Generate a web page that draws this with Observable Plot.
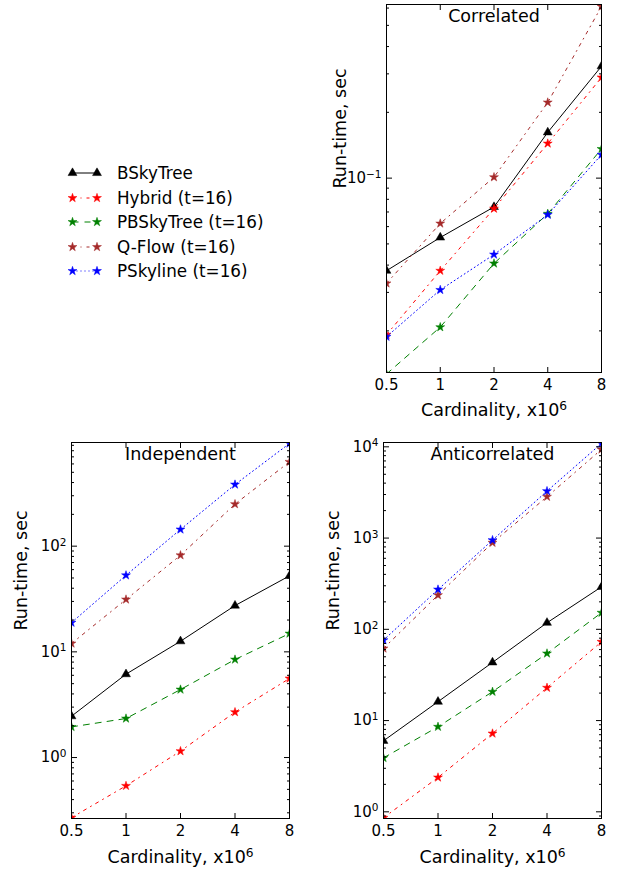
<!DOCTYPE html>
<html><head><meta charset="utf-8">
<script src="https://cdn.jsdelivr.net/npm/d3@7"></script>
<script src="https://cdn.jsdelivr.net/npm/@observablehq/plot@0.6"></script>
<style>
body{margin:0;background:#fff;font-family:"DejaVu Sans",sans-serif;}
#chart{position:relative;width:618px;height:871px;overflow:hidden;background:#fff;}
#chart > svg{position:absolute;}
</style></head><body><div id="chart"></div>
<script>
// ---- data ----
const cardinality = [0.5, 1, 2, 4, 8];
const xTickLabels = ["0.5", "1", "2", "4", "8"];
const seriesNames = ["BSkyTree", "Hybrid (t=16)", "PBSkyTree (t=16)", "Q-Flow (t=16)", "PSkyline (t=16)"];
const seriesColors = ["black", "red", "green", "brown", "blue"];
const seriesDash = [null, "3,5,1,5", "6,6", "3,5,1,5", "1,3"];
const seriesSymbols = ["triangle", "star", "star", "star", "star"];

// Correlated
const corBSkyTree  = [0.0377, 0.0535, 0.0738, 0.162, 0.325];
const corHybrid    = [0.0192, 0.0377, 0.0725, 0.144, 0.289];
const corPBSkyTree = [0.0127, 0.0208, 0.0407, 0.0687, 0.136];
const corQFlow     = [0.033, 0.062, 0.101, 0.222, 0.61];
const corPSkyline  = [0.0188, 0.0308, 0.0447, 0.068, 0.128];
// Independent
const indBSkyTree  = [2.46, 6.15, 12.6, 27.4, 52.4];
const indHybrid    = [0.27, 0.54, 1.15, 2.69, 5.6];
const indPBSkyTree = [1.95, 2.34, 4.4, 8.46, 14.9];
const indQFlow     = [12.0, 31.3, 82, 250, 628];
const indPSkyline  = [18.9, 53, 144, 383, 937];
// Anticorrelated
const antBSkyTree  = [6.0, 16.1, 43.4, 118, 292];
const antHybrid    = [0.86, 2.38, 7.22, 22.9, 73];
const antPBSkyTree = [3.9, 8.55, 20.7, 54.4, 152];
const antQFlow     = [61.7, 237, 888, 2837, 9370];
const antPSkyline  = [76, 273, 950, 3273, 10900];

const corMajorTicks = [0.1];
const indMajorTicks = [1, 10, 100];
const antMajorTicks = [1, 10, 100, 1000, 10000];

const yLabel = "Run-time, sec";
const xLabel = "Cardinality, x10\u2076";

// ---- helpers ----
const supMap = {"-": "\u207B", "0": "\u2070", "1": "\u00B9", "2": "\u00B2", "3": "\u00B3", "4": "\u2074"};
const unSup = {"\u207B": "\u2212", "\u2070": "0", "\u00B9": "1", "\u00B2": "2", "\u00B3": "3", "\u2074": "4", "\u2075": "5", "\u2076": "6"};
const fmtPow = d => "10" + String(Math.round(Math.log10(d))).split("").map(c => supMap[c]).join("");
const fmtX = d => xTickLabels[cardinality.indexOf(d)];

function minorTicks(domain) {
  const out = [];
  for (let k = Math.floor(Math.log10(domain[0])); k <= Math.ceil(Math.log10(domain[1])); k++)
    for (let m = 2; m <= 9; m++) { const v = m * Math.pow(10, k); if (v >= domain[0] && v <= domain[1]) out.push(v); }
  return out;
}

// turn unicode superscripts into real raised tspans (like mathtext)
function raiseSuperscripts(svg) {
  const ns = "http://www.w3.org/2000/svg";
  for (const t of svg.querySelectorAll("text")) {
    if (t.querySelector("tspan")) continue;
    const s = t.textContent;
    const m = s.match(/^(.*10)([\u207B\u2070\u00B9\u00B2\u00B3\u2074\u2075\u2076]+)$/);
    if (!m) continue;
    t.textContent = m[1];
    const ts = document.createElementNS(ns, "tspan");
    ts.setAttribute("font-size", "70%");
    ts.setAttribute("dy", "-0.5em");
    ts.textContent = m[2].split("").map(c => unSup[c]).join("");
    t.appendChild(ts);
  }
}

const chart = document.getElementById("chart");

function panel({title, values, domain, majors, left, top, width, height, mt, mr, mb, ml, ylabDx, xlabDy}) {
  const minors = minorTicks(domain);
  const marks = [];
  seriesNames.forEach((name, i) => {
    const rows = cardinality.map((c, j) => ({x: c, y: values[i][j], series: name}));
    marks.push(Plot.line(rows, {x: "x", y: "y", stroke: seriesColors[i], strokeWidth: 1, strokeDasharray: seriesDash[i], clip: true}));
    marks.push(Plot.dot(rows, {x: "x", y: "y", symbol: seriesSymbols[i], r: seriesSymbols[i] === "triangle" ? 3.3 : 2.8,
      fill: seriesColors[i], stroke: seriesColors[i], strokeWidth: 0.5, clip: true}));
  });
  for (const anchor of ["left", "right"]) {
    marks.push(Plot.axisY(majors, {anchor, tickSize: -6, tickFormat: () => "", label: null}));
    marks.push(Plot.axisY(minors, {anchor, tickSize: -3, tickFormat: () => "", label: null}));
  }
  for (const anchor of ["bottom", "top"]) {
    marks.push(Plot.axisX(cardinality, {anchor, tickSize: -5, tickFormat: () => "", label: null}));
  }
  marks.push(Plot.axisY(majors, {anchor: "left", tickSize: 0, tickPadding: 5, tickFormat: fmtPow, fontSize: 15, label: null}));
  marks.push(Plot.text(cardinality, {x: d => d, text: fmtX, frameAnchor: "bottom", dy: 13, fontSize: 15, lineAnchor: "middle"}));
  marks.push(Plot.frame({stroke: "black", strokeWidth: 1}));
  marks.push(Plot.text([title], {text: d => d, frameAnchor: "top", dy: 12, fontSize: 17.5, lineAnchor: "middle"}));
  marks.push(Plot.text([yLabel], {text: d => d, frameAnchor: "left", dx: ylabDx, rotate: -90, fontSize: 17.5, lineAnchor: "middle"}));
  marks.push(Plot.text([xLabel], {text: d => d, frameAnchor: "bottom", dy: xlabDy, fontSize: 17.5, lineAnchor: "middle"}));
  const svg = Plot.plot({
    width, height, marginTop: mt, marginRight: mr, marginBottom: mb, marginLeft: ml,
    style: {fontFamily: "DejaVu Sans", fontSize: "15px", color: "black", background: "transparent", overflow: "visible"},
    x: {type: "log", domain: [0.5, 8]},
    y: {type: "log", domain},
    marks
  });
  raiseSuperscripts(svg);
  svg.style.left = left + "px";
  svg.style.top = top + "px";
  chart.appendChild(svg);
}

panel({title: "Correlated", values: [corBSkyTree, corHybrid, corPBSkyTree, corQFlow, corPSkyline],
  domain: [0.0129, 0.623], majors: corMajorTicks,
  left: 310, top: 0, width: 308, height: 420, mt: 4, mr: 17, mb: 48, ml: 76, ylabDx: -46, xlabDy: 38});
panel({title: "Independent", values: [indBSkyTree, indHybrid, indPBSkyTree, indQFlow, indPSkyline],
  domain: [0.265, 957], majors: indMajorTicks,
  left: 0, top: 430, width: 310, height: 441, mt: 12, mr: 21, mb: 53, ml: 71, ylabDx: -50, xlabDy: 39});
panel({title: "Anticorrelated", values: [antBSkyTree, antHybrid, antPBSkyTree, antQFlow, antPSkyline],
  domain: [0.845, 11150], majors: antMajorTicks,
  left: 310, top: 430, width: 308, height: 441, mt: 12, mr: 17, mb: 53, ml: 73, ylabDx: -50, xlabDy: 39});

// ---- legend ----
const legendRowsY = [173, 198, 222, 247, 271];
const leg = d3.create("svg").attr("width", 300).attr("height", 300)
  .style("left", "0px").style("top", "0px").style("font-family", "DejaVu Sans");
seriesNames.forEach((name, i) => {
  const y = legendRowsY[i];
  leg.append("line").attr("x1", 72.5).attr("x2", 97).attr("y1", y).attr("y2", y)
    .attr("stroke", seriesColors[i]).attr("stroke-width", 1)
    .attr("stroke-dasharray", seriesDash[i]);
  const r = seriesSymbols[i] === "triangle" ? 3.3 : 2.8;
  const sym = d3.symbol(seriesSymbols[i] === "triangle" ? d3.symbolTriangle : d3.symbolStar, Math.PI * r * r);
  for (const x of [72.5, 97]) {
    leg.append("path").attr("d", sym()).attr("transform", `translate(${x},${y})`)
      .attr("fill", seriesColors[i]).attr("stroke", seriesColors[i]).attr("stroke-width", 0.5);
  }
  leg.append("text").attr("x", 117).attr("y", y).attr("dy", "0.35em")
    .attr("font-size", 16.8).attr("fill", "black").text(name);
});
chart.appendChild(leg.node());
</script></body></html>
